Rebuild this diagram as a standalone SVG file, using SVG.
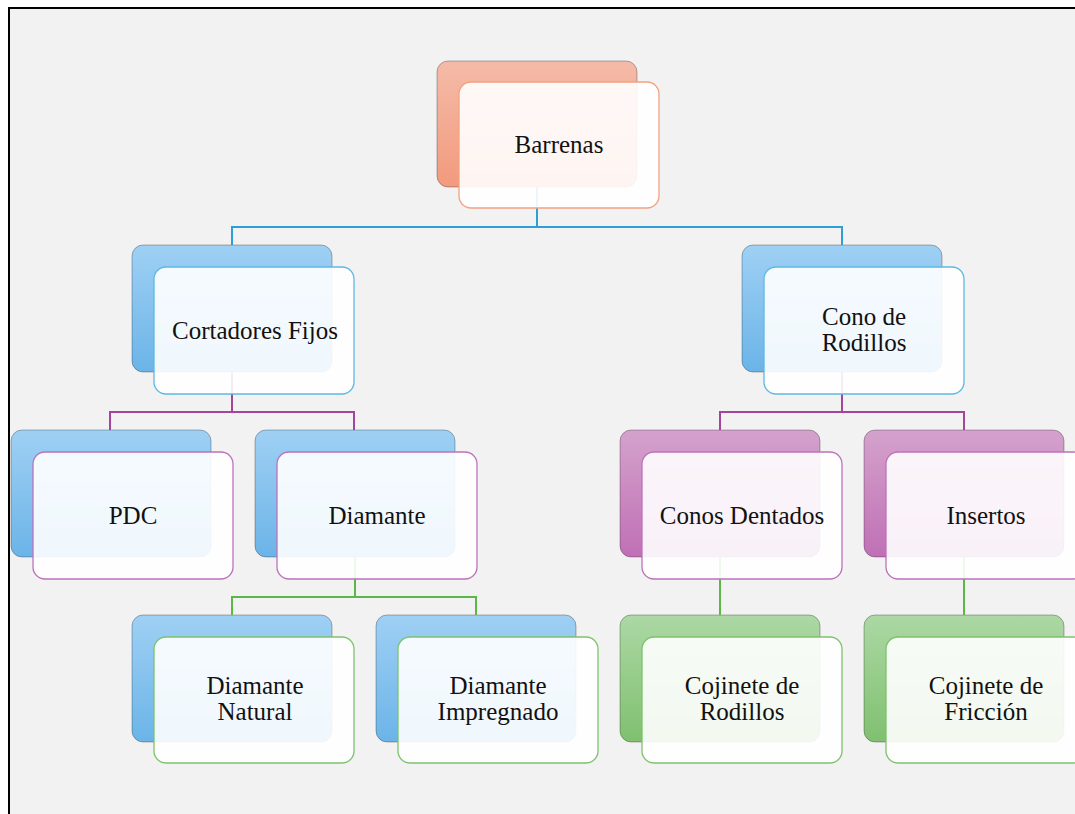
<svg xmlns="http://www.w3.org/2000/svg" width="1075" height="814" viewBox="0 0 1075 814">
  <defs>
    <linearGradient id="gOrange" x1="0" y1="0" x2="0" y2="1">
      <stop offset="0" stop-color="#f5bba8"/>
      <stop offset="1" stop-color="#f29a7d"/>
    </linearGradient>
    <linearGradient id="gBlue" x1="0" y1="0" x2="0" y2="1">
      <stop offset="0" stop-color="#9fd0f4"/>
      <stop offset="1" stop-color="#6bb4e8"/>
    </linearGradient>
    <linearGradient id="gPurple" x1="0" y1="0" x2="0" y2="1">
      <stop offset="0" stop-color="#d4a2cc"/>
      <stop offset="1" stop-color="#c070b5"/>
    </linearGradient>
    <linearGradient id="gGreen" x1="0" y1="0" x2="0" y2="1">
      <stop offset="0" stop-color="#acd8a4"/>
      <stop offset="1" stop-color="#80c070"/>
    </linearGradient>
    <style>
      .back { stroke: #000; stroke-opacity: 0.28; stroke-width: 1; }
      .front { fill: #ffffff; fill-opacity: 0.9; stroke-width: 1.3; }
      .sOrange { stroke: #f4a17f; }
      .sBlue { stroke: #5cb9e2; }
      .sPurple { stroke: #bd72ba; }
      .sGreen { stroke: #7dc26c; }
      .label { font-family: "Liberation Serif", "Times New Roman", serif; font-size: 25px; fill: #111; text-anchor: middle; }
      .conn { fill: none; stroke-width: 2; }
    </style>
  </defs>

  <!-- page -->
  <rect x="0" y="0" width="1075" height="814" fill="#ffffff"/>
  <rect x="9" y="8" width="1080" height="820" fill="#f2f2f2" stroke="#000" stroke-width="2"/>

  <!-- back plates -->
  <g id="plates">
    <rect class="back" x="437" y="61" width="200" height="126" rx="11" fill="url(#gOrange)"/>
    <rect class="back" x="132" y="245" width="200" height="127" rx="11" fill="url(#gBlue)"/>
    <rect class="back" x="742" y="245" width="200" height="127" rx="11" fill="url(#gBlue)"/>
    <rect class="back" x="11" y="430" width="200" height="127" rx="11" fill="url(#gBlue)"/>
    <rect class="back" x="255" y="430" width="200" height="127" rx="11" fill="url(#gBlue)"/>
    <rect class="back" x="620" y="430" width="200" height="127" rx="11" fill="url(#gPurple)"/>
    <rect class="back" x="864" y="430" width="200" height="127" rx="11" fill="url(#gPurple)"/>
    <rect class="back" x="132" y="615" width="200" height="127" rx="11" fill="url(#gBlue)"/>
    <rect class="back" x="376" y="615" width="200" height="127" rx="11" fill="url(#gBlue)"/>
    <rect class="back" x="620" y="615" width="200" height="127" rx="11" fill="url(#gGreen)"/>
    <rect class="back" x="864" y="615" width="200" height="127" rx="11" fill="url(#gGreen)"/>
  </g>

  <!-- connectors -->
  <g id="connectors">
    <path class="conn" stroke="#2e9fd6" d="M537 187 V227 M232 245 V227 H842 V245"/>
    <path class="conn" stroke="#a6439f" d="M232 372 V412 M110 430 V412 H354 V430"/>
    <path class="conn" stroke="#a6439f" d="M842 372 V412 M720 430 V412 H964 V430"/>
    <path class="conn" stroke="#5cb648" d="M355 557 V597 M232 615 V597 H476 V615"/>
    <path class="conn" stroke="#5cb648" d="M720 557 V615"/>
    <path class="conn" stroke="#5cb648" d="M964 557 V615"/>
  </g>

  <g id="barrenas">
    <rect class="front sOrange" x="459" y="82" width="200" height="126" rx="12"/>
    <text class="label" x="559" y="153">Barrenas</text>
  </g>

  <g id="cortadores-fijos">
    <rect class="front sBlue" x="154" y="267" width="200" height="127" rx="12"/>
    <text class="label" x="255" y="339">Cortadores Fijos</text>
  </g>

  <g id="cono-de-rodillos">
    <rect class="front sBlue" x="764" y="267" width="200" height="127" rx="12"/>
    <text class="label" x="864" y="325">Cono de</text>
    <text class="label" x="864" y="351">Rodillos</text>
  </g>

  <g id="pdc">
    <rect class="front sPurple" x="33" y="452" width="200" height="127" rx="12"/>
    <text class="label" x="133" y="524">PDC</text>
  </g>

  <g id="diamante">
    <rect class="front sPurple" x="277" y="452" width="200" height="127" rx="12"/>
    <text class="label" x="377" y="524">Diamante</text>
  </g>

  <g id="conos-dentados">
    <rect class="front sPurple" x="642" y="452" width="200" height="127" rx="12"/>
    <text class="label" x="742" y="524">Conos Dentados</text>
  </g>

  <g id="insertos">
    <rect class="front sPurple" x="886" y="452" width="200" height="127" rx="12"/>
    <text class="label" x="986" y="524">Insertos</text>
  </g>

  <g id="diamante-natural">
    <rect class="front sGreen" x="154" y="637" width="200" height="126" rx="12"/>
    <text class="label" x="255" y="694">Diamante</text>
    <text class="label" x="255" y="720">Natural</text>
  </g>

  <g id="diamante-impregnado">
    <rect class="front sGreen" x="398" y="637" width="200" height="126" rx="12"/>
    <text class="label" x="498" y="694">Diamante</text>
    <text class="label" x="498" y="720">Impregnado</text>
  </g>

  <g id="cojinete-rodillos">
    <rect class="front sGreen" x="642" y="637" width="200" height="126" rx="12"/>
    <text class="label" x="742" y="694">Cojinete de</text>
    <text class="label" x="742" y="720">Rodillos</text>
  </g>

  <g id="cojinete-friccion">
    <rect class="front sGreen" x="886" y="637" width="200" height="126" rx="12"/>
    <text class="label" x="986" y="694">Cojinete de</text>
    <text class="label" x="986" y="720">Fricción</text>
  </g>
</svg>
